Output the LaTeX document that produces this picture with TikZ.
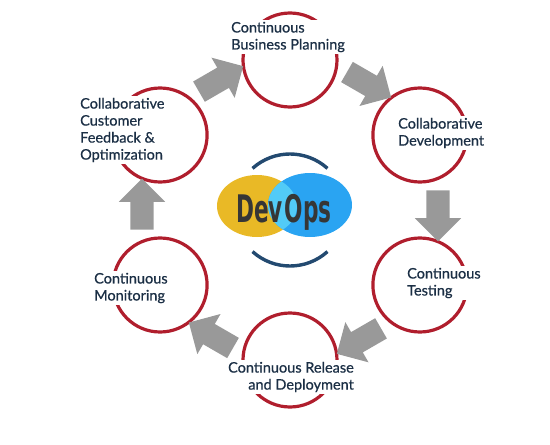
\documentclass[tikz,border=0pt]{standalone}
\usepackage{fontspec}
\setmainfont{Lato}[FakeBold=0.6,AutoFakeBold=0.6]
\newfontfamily\devfont[FakeStretch=0.57]{DejaVu Sans}
\usetikzlibrary{shapes.arrows}

\definecolor{ringred}{HTML}{B01E2D}
\definecolor{labelnavy}{HTML}{1B2F45}
\definecolor{arrowgray}{HTML}{999999}
\definecolor{devyellow}{HTML}{E9B926}
\definecolor{opsblue}{HTML}{2AA4F2}
\definecolor{mixcyan}{HTML}{52CBF7}
\definecolor{hubnavy}{HTML}{234A70}
\definecolor{devgray}{HTML}{363636}

\begin{document}
\begin{tikzpicture}[x=1pt,y=1pt,
		ring/.style={circle,draw=ringred,line width=3.2pt,minimum size=94pt,inner sep=0pt},
		stage/.style={fill=white,text=labelnavy,inner sep=2pt,font=\fontsize{14.5}{17}\selectfont\bfseries},
		flow/.style={single arrow,fill=arrowgray,minimum height=51pt,
			inner xsep=0pt,inner ysep=11.5pt,single arrow head extend=11.5pt}]
		\useasboundingbox (-290,-235) rectangle (260,210);
		% the six stages
		\node[ring] (plan)    at (90:150pt)  {};
		\node[ring] (develop) at (30:150pt)  {};
		\node[ring] (test)    at (-30:150pt) {};
		\node[ring] (release) at (-90:150pt) {};
		\node[ring] (monitor) at (210:150pt) {};
		\node[ring] (feedback) at (150:150pt) {};
		% labels cover part of each ring
		\node[stage,align=left,anchor=west]  (plantxt)    at (-61,173)  {Continuous\\Business Planning};
		\node[stage,align=left,anchor=west]  (developtxt) at (106,77)   {Collaborative\\Development};
		\node[stage,align=left,anchor=west]  (testtxt)    at (115,-73)  {Continuous\\Testing};
		\node[stage,align=right,anchor=east] (releasetxt) at (66,-167)  {Continuous Release\\and Deployment};
		\node[stage,align=left,anchor=west]  (monitortxt) at (-198,-78) {Continuous\\Monitoring};
		\node[stage,align=left,anchor=west]  (feedbacktxt) at (-212,80) {Collaborative\\Customer\\Feedback \&\\Optimization};
		% arrows, clockwise
		\node[flow,rotate=30]   (a1) at (120:148pt) {};
		\node[flow,rotate=-30]  (a2) at (60:148pt)  {};
		\node[flow,rotate=-90]  (a3) at (0:148pt)   {};
		\node[flow,rotate=-150] (a4) at (-60:148pt) {};
		\node[flow,rotate=150]  (a5) at (-120:148pt) {};
		\node[flow,rotate=90]   (a6) at (180:148pt) {};
		% hub
		\draw[hubnavy,line width=3.4pt] (48:56pt) arc (48:132:56pt);
		\draw[hubnavy,line width=3.4pt] (228:56pt) arc (228:312:56pt);
		\fill[devyellow] (-33,4) ellipse [x radius=40pt,y radius=31pt];
		\fill[opsblue] (20,5) ellipse [x radius=42pt,y radius=32pt];
		\begin{scope}
			\clip (-33,4) ellipse [x radius=40pt,y radius=31pt];
			\fill[mixcyan] (20,5) ellipse [x radius=42pt,y radius=32pt];
		\end{scope}
		\node[anchor=base,text=devgray,inner sep=0pt] (hub) at (-6,-12)
			{\devfont\bfseries\fontsize{38}{40}\selectfont Dev\kern2pt Ops};
\end{tikzpicture}
\end{document}
